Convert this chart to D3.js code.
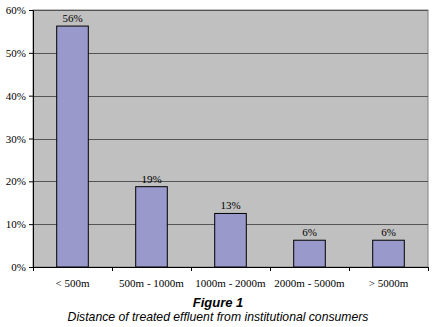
<!DOCTYPE html>
<html>
<head>
<meta charset="utf-8">
<script src="https://cdn.jsdelivr.net/npm/d3@7"></script>
<style>
  body { margin: 0; background: #fff; }
  svg text.serif, .axis text { font-family: "Liberation Serif", "Times New Roman", "DejaVu Serif", serif !important; font-size: 11px; fill: #000; }
</style>
</head>
<body>
<div id="chart-area"></div>
<script>
// data
let categories = ["< 500m", "500m - 1000m", "1000m - 2000m", "2000m - 5000m", "> 5000m"];
let values = [56.25, 18.75, 12.5, 6.25, 6.25];
let valueLabels = ["56%", "19%", "13%", "6%", "6%"];
let yTicks = [0, 10, 20, 30, 40, 50, 60];

let margin = {left: 33, right: 8, top: 10, bottom: 60};
let width = 436 - margin.left - margin.right;
let height = 327 - margin.top - margin.bottom;

let svg = d3.select("#chart-area")
            .append("svg")
            .attr("width", 436)
            .attr("height", 327);

let g = svg.append("g")
            .attr("transform", "translate(" + margin.left + "," + margin.top + ")");

let x = d3.scaleBand()
        .domain(categories)
        .range([0, width])
        .paddingInner(0.6)
        .paddingOuter(0.3);

let y = d3.scaleLinear()
        .domain([0, 60])
        .range([height, 0]);

// plot background
g.append("rect")
    .attr("x", 0)
    .attr("y", 0)
    .attr("width", width)
    .attr("height", height)
    .attr("fill", "#c0c0c0")
    .attr("stroke", "#808080")
    .attr("stroke-width", 1);

// gridlines
g.selectAll(".grid")
    .data(yTicks.slice(1))
    .enter()
    .append("line")
    .attr("class", "grid")
    .attr("x1", 0)
    .attr("x2", width)
    .attr("y1", d => Math.round(y(d)) + 0.5)
    .attr("y2", d => Math.round(y(d)) + 0.5)
    .attr("stroke", "#555")
    .attr("stroke-width", 1);

// bars
g.selectAll(".bar")
    .data(values)
    .enter()
    .append("rect")
    .attr("class", "bar")
    .attr("x", (d, i) => x(categories[i]))
    .attr("y", d => y(d))
    .attr("width", x.bandwidth())
    .attr("height", d => height - y(d))
    .attr("fill", "#9999cc")
    .attr("stroke", "#000")
    .attr("stroke-width", 1);

// value labels
g.selectAll(".vlabel")
    .data(values)
    .enter()
    .append("text")
    .attr("class", "vlabel serif")
    .attr("x", (d, i) => x(categories[i]) + x.bandwidth() / 2)
    .attr("y", d => y(d) - 4)
    .attr("text-anchor", "middle")
    .text((d, i) => valueLabels[i]);

// y axis
let yAxis = d3.axisLeft(y)
            .tickValues(yTicks)
            .tickSize(4)
            .tickFormat(d => d + "%");

g.append("g")
    .attr("class", "y axis")
    .call(yAxis)
    .attr("font-family", null)
    .attr("font-size", null)
    .call(a => a.select(".domain").attr("stroke", "#000"));

// x axis, ticks sit between categories
let xAxis = d3.axisBottom(x).tickSize(0).tickPadding(12);

let xg = g.append("g")
    .attr("class", "x axis")
    .attr("transform", "translate(0," + height + ")")
    .call(xAxis)
    .attr("font-family", null)
    .attr("font-size", null);
xg.select(".domain").attr("stroke", "#000");

xg.selectAll(".sep")
    .data(d3.range(categories.length + 1))
    .enter()
    .append("line")
    .attr("class", "sep")
    .attr("x1", i => Math.round(i * width / categories.length) + 0.5)
    .attr("x2", i => Math.round(i * width / categories.length) + 0.5)
    .attr("y1", 0)
    .attr("y2", 4)
    .attr("stroke", "#000");

// caption
svg.append("text")
    .attr("x", 218)
    .attr("y", 307)
    .attr("text-anchor", "middle")
    .style("font-family", "'Liberation Sans', Arial, sans-serif")
    .style("font-size", "13px")
    .style("font-weight", "bold")
    .style("font-style", "italic")
    .text("Figure 1");

svg.append("text")
    .attr("x", 218)
    .attr("y", 321)
    .attr("text-anchor", "middle")
    .style("font-family", "'Liberation Sans', Arial, sans-serif")
    .style("font-size", "12.2px")
    .style("font-style", "italic")
    .text("Distance of treated effluent from institutional consumers");
</script>
</body>
</html>
